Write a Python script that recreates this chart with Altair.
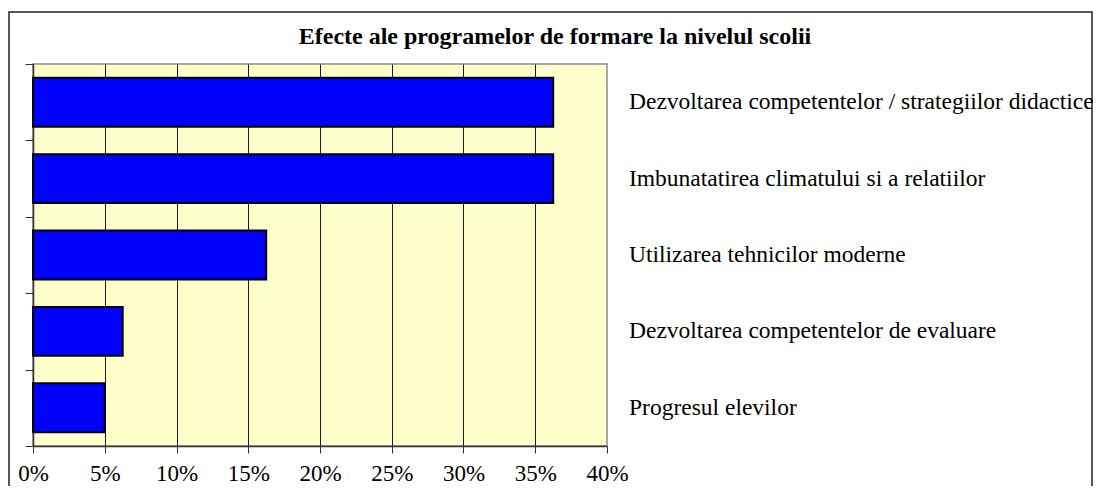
import altair as alt
import pandas as pd

categories = [
    "Dezvoltarea competentelor / strategiilor didactice",
    "Imbunatatirea climatului si a relatiilor",
    "Utilizarea tehnicilor moderne",
    "Dezvoltarea competentelor de evaluare",
    "Progresul elevilor",
]
values = [0.3625, 0.3625, 0.1625, 0.0625, 0.05]
tick_values = [0, 0.05, 0.10, 0.15, 0.20, 0.25, 0.30, 0.35, 0.40]
title_text = "Efecte ale programelor de formare la nivelul scolii"

df = pd.DataFrame({"cat": categories, "val": values})
FONT = "'Liberation Serif', 'Times New Roman', Times, serif"

W, H = 574, 382

bars = alt.Chart(df).mark_bar(
    color="#0000FF", stroke="#000000", strokeWidth=2
).encode(
    x=alt.X(
        "val:Q",
        scale=alt.Scale(domain=[0, 0.4], nice=False, zero=True),
        axis=alt.Axis(
            title=None,
            values=tick_values,
            format=".0%",
            labelFont=FONT,
            labelFontSize=23,
            labelColor="#000000",
            labelPadding=9,
            tickSize=7,
            tickColor="#333333",
            domainColor="#333333",
            domainWidth=1.5,
            grid=True,
            gridColor={"condition": {"test": "datum.value >= 0.399 || datum.value <= 0.001", "value": "rgba(0,0,0,0)"}, "value": "#1a1a1a"},
            gridWidth=1,
            labelFlush=False,
            labelOverlap=False,
        ),
    ),
    y=alt.Y(
        "cat:N",
        sort=None,
        scale=alt.Scale(paddingInner=0.36, paddingOuter=0.18),
        axis=None,
    ),
)

ticks = alt.Chart(df).mark_point(opacity=0).encode(
    y=alt.Y(
        "cat:N",
        sort=None,
        scale=alt.Scale(type="band", paddingInner=0, paddingOuter=0),
        axis=alt.Axis(
            title=None,
            orient="left",
            labels=False,
            tickBand="extent",
            tickSize=8,
            tickColor="#333333",
            domainColor="#333333",
            domainWidth=1.5,
            tickWidth=1,
            grid=False,
        ),
    ),
)

labels = alt.Chart(df).mark_text(
    align="left", baseline="middle", font=FONT, fontSize=23.5, color="#000000"
).encode(
    x=alt.value(596),
    y=alt.Y("cat:N", sort=None, axis=None),
    text="cat:N",
)

title = alt.Chart(pd.DataFrame({"t": [title_text]})).mark_text(
    align="center", baseline="alphabetic", font=FONT, fontSize=24,
    fontWeight="bold", color="#000000"
).encode(
    x=alt.value(522),
    y=alt.value(-20),
    text="t:N",
)

frame = alt.Chart(pd.DataFrame({"a": [0]})).mark_rect(
    fill=None, stroke="#222222", strokeWidth=1.5
).encode(
    x=alt.value(-24), x2=alt.value(1059),
    y=alt.value(-52), y2=alt.value(440),
)

chart = alt.layer(frame, bars, ticks, labels, title).resolve_scale(
    y="independent"
).properties(
    width=W, height=H,
    autosize=alt.AutoSizeParams(type="none"),
    padding={"left": 25, "top": 56, "right": 486, "bottom": 40},
    background="#ffffff",
).configure_view(
    fill="#FFFFCC", stroke="#8c8c8c", strokeWidth=1.5
)

chart.save("out.html", embed_options={"renderer": "svg", "actions": False})
